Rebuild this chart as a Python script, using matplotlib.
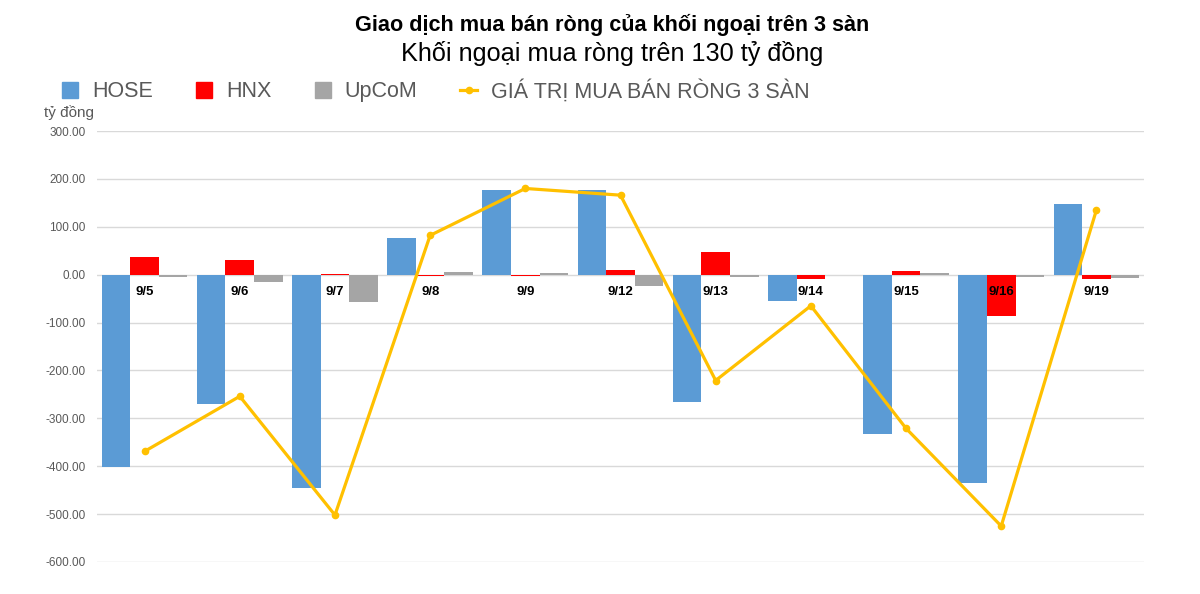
import matplotlib
matplotlib.use('Agg')
import matplotlib.pyplot as plt
import numpy as np
from matplotlib.lines import Line2D
from matplotlib.patches import Patch

categories = ['9/5', '9/6', '9/7', '9/8', '9/9', '9/12', '9/13', '9/14', '9/15', '9/16', '9/19']
hose = [-402, -271, -446, 76, 177, 177, -265, -56, -333, -435, 148]
hnx = [37.5, 31, 2, -2, -2, 10, 48, -9, 8, -87, -10]
upcom = [-4, -16, -58, 5, 3, -24, -4, -1, 3, -4, -6]
total = [-369, -254, -502, 82, 180, 166, -221, -65, -321, -525, 135]
yticks = [300, 200, 100, 0, -100, -200, -300, -400, -500, -600]
series_names = ['HOSE', 'HNX', 'UpCoM', 'GIÁ TRỊ MUA BÁN RÒNG 3 SÀN']

C_HOSE = '#5B9BD5'
C_HNX = '#FF0000'
C_UP = '#A5A5A5'
C_LINE = '#FFC000'
FONT = ['Liberation Sans', 'DejaVu Sans']
plt.rcParams['font.family'] = FONT

fig = plt.figure(figsize=(12, 5.94), dpi=100)
ax = fig.add_axes([97 / 1200, 1 - 562 / 594, (1144 - 97) / 1200, (562 - 131) / 594])

x = np.arange(len(categories))
w = 0.3
ax.bar(x - w, hose, w, color=C_HOSE, zorder=1)
ax.bar(x, hnx, w, color=C_HNX, zorder=1)
ax.bar(x + w, upcom, w, color=C_UP, zorder=1)
ax.plot(x, total, color=C_LINE, lw=2.3, marker='o', ms=4.5, zorder=3)

ax.set_xlim(-0.5, len(categories) - 0.5)
ax.set_ylim(-600, 300)
ax.set_yticks(yticks)
ax.set_yticklabels([f'{v:.2f}' for v in yticks], color='#595959', fontsize=8.5)
ax.grid(axis='y', color='#D9D9D9', lw=1)
ax.set_axisbelow(True)
for s in ['top', 'right', 'left', 'bottom']:
    ax.spines[s].set_visible(False)
ax.set_xticks([])
ax.tick_params(axis='y', length=0, pad=8)

for xi, cat in zip(x, categories):
    ax.annotate(cat, (xi, 0), xytext=(0, -8), textcoords='offset points',
                ha='center', va='top', fontsize=9.5, fontweight='bold',
                color='black', zorder=5, annotation_clip=False)

fig.text(0.51, 1 - 25 / 594, 'Giao dịch mua bán ròng của khối ngoại trên 3 sàn',
         ha='center', va='center', fontsize=15.6, fontweight='bold')
fig.text(0.51, 1 - 53 / 594, 'Khối ngoại mua ròng trên 130 tỷ đồng',
         ha='center', va='center', fontsize=18.2)
fig.text(44 / 1200, 1 - 113 / 594, 'tỷ đồng', ha='left', va='center', fontsize=11,
         color='#595959')

handles = [Patch(color=C_HOSE), Patch(color=C_HNX), Patch(color=C_UP),
           Line2D([0], [0], color=C_LINE, lw=2.3, marker='o', ms=4.5)]
leg = fig.legend(handles, series_names, loc='center left',
                 bbox_to_anchor=(62 / 1200, 1 - 91 / 594), ncol=4, frameon=False,
                 prop={'size': 15.5}, labelcolor='#595959', borderaxespad=0, borderpad=0,
                 handlelength=0.75, handleheight=0.75, handletextpad=0.65, columnspacing=2.0)

fig.savefig('out.png', dpi=100)
